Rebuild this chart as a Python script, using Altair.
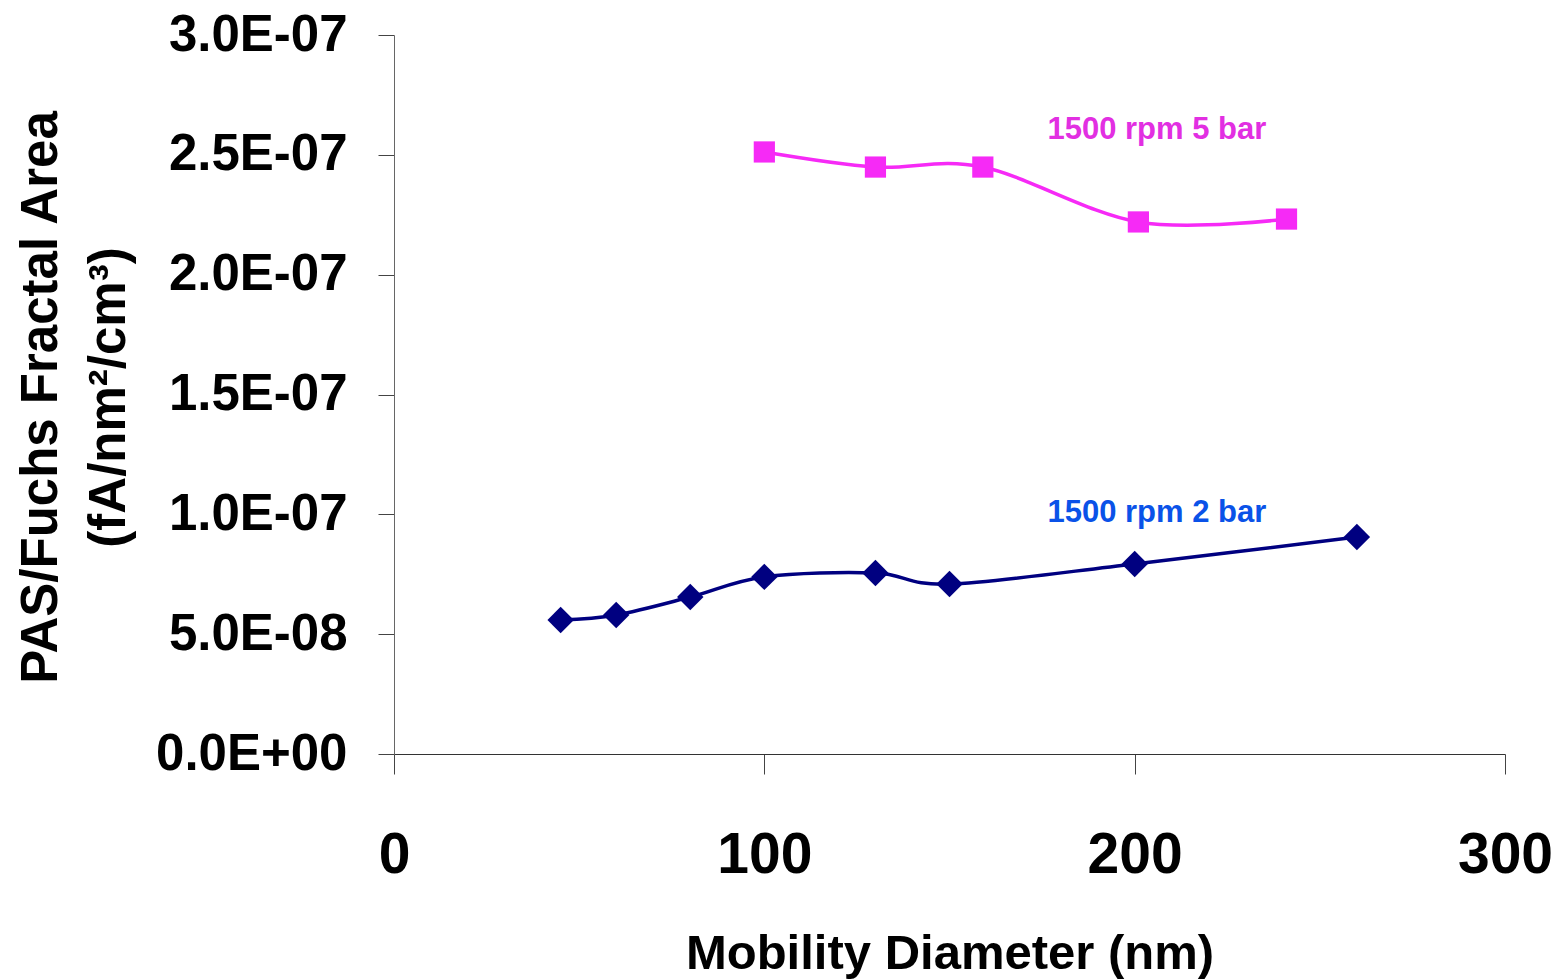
import altair as alt
import pandas as pd

# ---- data ----
x_2bar = [45, 60, 80, 100, 130, 150, 200, 260]
y_2bar = [5.59e-8, 5.80e-8, 6.55e-8, 7.39e-8, 7.55e-8, 7.09e-8, 7.93e-8, 9.05e-8]

x_5bar = [100, 130, 159, 201, 241]
y_5bar = [2.512e-7, 2.449e-7, 2.449e-7, 2.220e-7, 2.232e-7]

series_labels = ["1500 rpm 2 bar", "1500 rpm 5 bar"]
label_x = [206, 206]
label_y = [1.004e-7, 2.605e-7]

x_ticks = [0, 100, 200, 300]
y_ticks = [0, 5e-8, 1e-7, 1.5e-7, 2e-7, 2.5e-7, 3e-7]

x_title = "Mobility Diameter (nm)"
y_title = ["PAS/Fuchs Fractal Area", "(fA/nm\u00b2/cm\u00b3)"]

# ---- styling ----
BLUE_LINE = "#000080"
BLUE_TEXT = "#0A52E8"
PINK = "#F62AF6"
PINK_TEXT = "#E22FE2"
FONT = "Liberation Sans"

df2 = pd.DataFrame({"x": x_2bar, "y": y_2bar})
df5 = pd.DataFrame({"x": x_5bar, "y": y_5bar})
dfl2 = pd.DataFrame({"x": [label_x[0]], "y": [label_y[0]], "t": [series_labels[0]]})
dfl5 = pd.DataFrame({"x": [label_x[1]], "y": [label_y[1]], "t": [series_labels[1]]})

X = alt.X(
    "x:Q",
    scale=alt.Scale(domain=[0, 300], nice=False, zero=False),
    axis=alt.Axis(
        values=x_ticks,
        grid=False,
        title=x_title,
        labelFont=FONT,
        labelFontWeight="bold",
        labelFontSize=57,
        labelColor="black",
        labelBaseline="alphabetic",
        labelPadding=98,
        labelFlush=False,
        labelOverlap=False,
        labelLimit=400,
        tickSize=20,
        tickColor="#444",
        domainColor="#333",
        titleFont=FONT,
        titleFontWeight="bold",
        titleFontSize=49,
        titleColor="black",
        titleBaseline="alphabetic",
        titleAnchor="middle",
        titleY=214,
    ),
)

Y = alt.Y(
    "y:Q",
    scale=alt.Scale(domain=[0, 3e-7], nice=False, zero=True),
    axis=alt.Axis(
        values=y_ticks,
        grid=False,
        title=y_title,
        labelExpr="replace(replace(format(datum.value, '.1e'), 'e-', 'E-0'), 'e+', 'E+0')",
        labelFont=FONT,
        labelFontWeight="bold",
        labelFontSize=51,
        labelColor="black",
        labelPadding=31,
        labelFlush=False,
        labelOverlap=False,
        labelLimit=400,
        tickSize=16,
        tickColor="#444",
        domainColor="#666",
        titleFont=FONT,
        titleFontWeight="bold",
        titleFontSize=51,
        titleColor="black",
        titleAngle=-90,
        titleAlign="center",
        titleBaseline="top",
        titleLineHeight=68,
        titleX=-378,
        titleY=362,
    ),
)

line2 = alt.Chart(df2).mark_line(
    color=BLUE_LINE, strokeWidth=3.5, interpolate="cardinal", tension=0
).encode(x=X, y=Y)
pts2 = alt.Chart(df2).mark_point(
    shape="diamond", filled=True, size=700, color=BLUE_LINE, opacity=1
).encode(x=X, y=Y)

line5 = alt.Chart(df5).mark_line(
    color=PINK, strokeWidth=3.5, interpolate="cardinal", tension=0
).encode(x=X, y=Y)
pts5 = alt.Chart(df5).mark_point(
    shape="square", filled=True, size=450, color=PINK, opacity=1
).encode(x=X, y=Y)

txt2 = alt.Chart(dfl2).mark_text(
    font=FONT, fontWeight="bold", fontSize=31, color=BLUE_TEXT,
    align="center", baseline="middle"
).encode(x=X, y=Y, text="t:N")
txt5 = alt.Chart(dfl5).mark_text(
    font=FONT, fontWeight="bold", fontSize=31, color=PINK_TEXT,
    align="center", baseline="middle"
).encode(x=X, y=Y, text="t:N")

chart = (
    alt.layer(line2, pts2, line5, pts5, txt2, txt5)
    .properties(
        width=1111,
        height=719,
        autosize=alt.AutoSizeParams(type="none"),
        padding={"left": 394, "top": 35, "right": 58, "bottom": 225},
        background="white",
    )
    .configure_view(stroke=None)
)

chart.save("out.html", embed_options={"renderer": "svg", "actions": False})
